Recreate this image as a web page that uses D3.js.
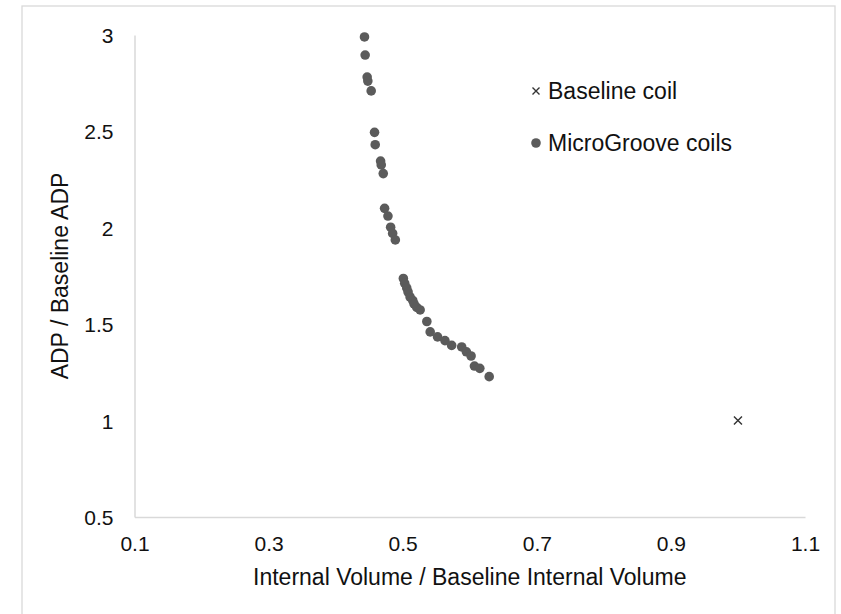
<!DOCTYPE html>
<html>
<head>
<meta charset="utf-8">
<script src="https://cdn.jsdelivr.net/npm/d3@7"></script>
<style>
  body { margin: 0; background: #fff; }
  text { font-family: "Liberation Sans", Arial, sans-serif; fill: #111; }
</style>
</head>
<body>
<div id="chart"></div>
<script>
// data
var microX = [0.443, 0.444, 0.447, 0.448, 0.453, 0.458, 0.459, 0.467, 0.468, 0.471,
              0.473, 0.478, 0.482, 0.485, 0.489, 0.501, 0.503, 0.506, 0.508, 0.511,
              0.515, 0.517, 0.521, 0.526, 0.536, 0.541, 0.552, 0.563, 0.573, 0.588,
              0.595, 0.602, 0.607, 0.615, 0.629];
var microY = [2.99, 2.896, 2.782, 2.761, 2.71, 2.495, 2.431, 2.346, 2.326, 2.281,
              2.101, 2.061, 2.003, 1.971, 1.937, 1.737, 1.712, 1.688, 1.667, 1.641,
              1.623, 1.605, 1.587, 1.574, 1.514, 1.46, 1.434, 1.415, 1.39, 1.382,
              1.357, 1.335, 1.283, 1.271, 1.228];
var baselineX = [1.0];
var baselineY = [1.0];

var xTicks = [0.1, 0.3, 0.5, 0.7, 0.9, 1.1];
var yTicks = [0.5, 1, 1.5, 2, 2.5, 3];

var seriesNames = ["Baseline coil", "MicroGroove coils"];

var W = 841, H = 614;
var margin = { top: 35, right: 36, bottom: 97, left: 134.5 };
var width = W - margin.left - margin.right,
    height = H - margin.top - margin.bottom;

var svg = d3.select("#chart").append("svg")
    .attr("width", W)
    .attr("height", H);

// outer chart border
svg.append("rect")
    .attr("x", 22).attr("y", 6)
    .attr("width", 813).attr("height", 640)
    .attr("fill", "#fff")
    .attr("stroke", "#d9d9d9")
    .attr("stroke-width", 1.3);

var g = svg.append("g")
    .attr("transform", "translate(" + margin.left + "," + margin.top + ")");

var x = d3.scaleLinear().domain([0.1, 1.1]).range([0, width]);
var y = d3.scaleLinear().domain([0.5, 3]).range([height, 0]);

var xAxis = d3.axisBottom(x).tickValues(xTicks).tickSize(0).tickPadding(19)
    .tickFormat(d3.format(".1f"));
var yAxis = d3.axisLeft(y).tickValues(yTicks).tickSize(0).tickPadding(21)
    .tickFormat(function(d) { return d3.format("")(d); });

var gx = g.append("g")
    .attr("transform", "translate(0," + height + ")")
    .call(xAxis);
var gy = g.append("g").call(yAxis);

[gx, gy].forEach(function(ax) {
    ax.select(".domain").attr("stroke", "#d9d9d9").attr("stroke-width", 1.5);
    ax.selectAll(".tick text")
        .style("font-family", "'Liberation Sans', Arial, sans-serif")
        .style("font-size", "21px")
        .attr("fill", "#111");
});
gy.selectAll(".tick text").attr("dy", "0.36em");

// axis titles
svg.append("text")
    .attr("x", margin.left + x(0.6))
    .attr("y", 585)
    .attr("text-anchor", "middle")
    .style("font-size", "23px")
    .text("Internal Volume / Baseline Internal Volume");

svg.append("text")
    .attr("transform", "translate(68," + (margin.top + y(1.75)) + ") rotate(-90)")
    .attr("text-anchor", "middle")
    .style("font-size", "23px")
    .text("ADP / Baseline ADP");

// MicroGroove points
var microData = microX.map(function(v, i) { return { x: v, y: microY[i] }; });
g.selectAll(".dot")
    .data(microData)
    .enter()
    .append("circle")
    .attr("class", "dot")
    .attr("cx", function(d) { return x(d.x); })
    .attr("cy", function(d) { return y(d.y); })
    .attr("r", 4.8)
    .attr("fill", "#5b5b5b");

// baseline cross
function cross(sel, s) {
    sel.append("path")
        .attr("d", "M" + (-s) + "," + (-s) + "L" + s + "," + s + "M" + (-s) + "," + s + "L" + s + "," + (-s))
        .attr("stroke", "#333")
        .attr("stroke-width", 1.4)
        .attr("fill", "none");
}
var baseData = baselineX.map(function(v, i) { return { x: v, y: baselineY[i] }; });
g.selectAll(".base")
    .data(baseData)
    .enter()
    .append("g")
    .attr("class", "base")
    .attr("transform", function(d) { return "translate(" + x(d.x) + "," + y(d.y) + ")"; })
    .call(cross, 4);

// legend
var legend = svg.append("g").attr("transform", "translate(536,0)");
var l1 = legend.append("g").attr("transform", "translate(0,91)");
l1.call(cross, 3.5);
l1.append("text").attr("x", 12).attr("dy", "0.35em")
    .style("font-size", "23px").text(seriesNames[0]);
var l2 = legend.append("g").attr("transform", "translate(0,143)");
l2.append("circle").attr("r", 4.8).attr("fill", "#5b5b5b");
l2.append("text").attr("x", 12).attr("dy", "0.35em")
    .style("font-size", "23px").text(seriesNames[1]);
</script>
</body>
</html>
